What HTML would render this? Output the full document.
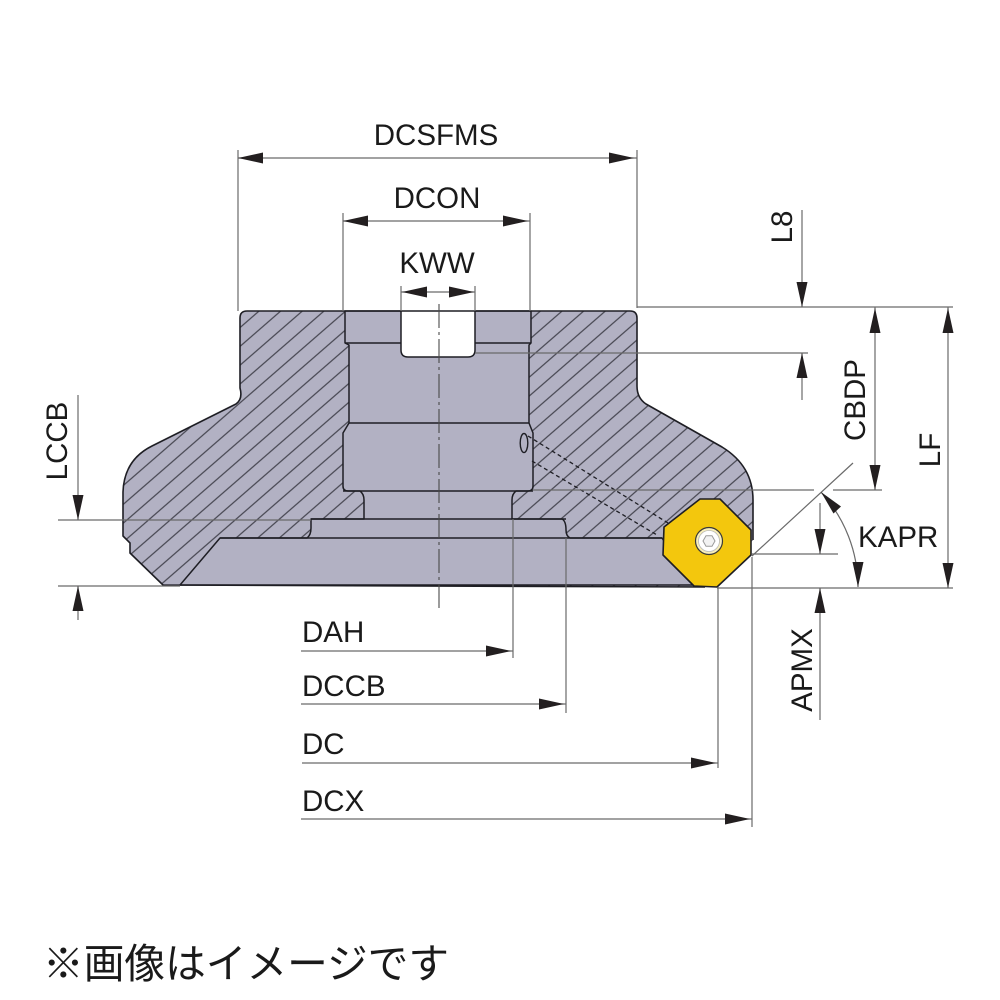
<!DOCTYPE html>
<html>
<head>
<meta charset="utf-8">
<style>
html,body{margin:0;padding:0;background:#fff;}
svg{display:block;}
text{font-family:"Liberation Sans","Noto Sans CJK JP",sans-serif;fill:#1a1a1a;}
</style>
</head>
<body>
<svg width="1000" height="1000" viewBox="0 0 1000 1000" xmlns="http://www.w3.org/2000/svg">
<defs>
  <pattern id="hatch" patternUnits="userSpaceOnUse" width="14.2" height="20" patternTransform="rotate(49)">
    <line x1="7.1" y1="-2" x2="7.1" y2="22" stroke="#3a3a44" stroke-width="1.1"/>
  </pattern>
  <clipPath id="bodyclip">
    <path d="M 247,311 L 630,311 Q 637,311 637,318 L 637,386 Q 637,398 646,404 L 722,447 Q 753,466 753,500 L 753,540 L 705,587 L 163,585 L 130,553 L 130,543 L 123,536 L 123,492 Q 124,460 152,446 L 236,404 Q 243,399 240,388 L 240,318 Q 240,311 247,311 Z"/>
  </clipPath>
</defs>

<path d="M 247,311 L 630,311 Q 637,311 637,318 L 637,386 Q 637,398 646,404 L 722,447 Q 753,466 753,500 L 753,540 L 705,587 L 163,585 L 130,553 L 130,543 L 123,536 L 123,492 Q 124,460 152,446 L 236,404 Q 243,399 240,388 L 240,318 Q 240,311 247,311 Z" fill="#b2b1c3"/>
<rect x="100" y="300" width="680" height="300" fill="url(#hatch)" clip-path="url(#bodyclip)"/>

<path d="M 345,311 L 531,311 L 531,343 L 529,345 L 529,423 L 533,433 L 533,486 Q 533,491 528,491 L 516,491 Q 512,494 512,500 L 512,519 L 562,519 Q 566,521 566,530 Q 566,536 570,538 L 662,538 L 693,585 L 180,585 L 220,538 L 307,538 Q 311,535 311,528 L 311,519 L 364,519 L 364,500 Q 364,494 360,491 L 348,491 Q 343,491 343,486 L 343,433 L 349,423 L 349,345 L 345,343 Z" fill="#b2b1c3" stroke="#1e1e24" stroke-width="1.5" stroke-linejoin="round"/>
<g stroke="#1e1e24" stroke-width="1.5" fill="none">
  <line x1="345" y1="343" x2="531" y2="343"/>
  <line x1="349" y1="423" x2="529" y2="423"/>
  <line x1="343" y1="491" x2="533" y2="491"/>
  <line x1="311" y1="519" x2="566" y2="519"/>
  <line x1="220" y1="538" x2="662" y2="538"/>
</g>

<path d="M 401,308 L 401,350 Q 401,357 408,357 L 468,357 Q 475,357 475,350 L 475,308 Z" fill="#fff"/>
<path d="M 401,311 L 401,350 Q 401,357 408,357 L 468,357 Q 475,357 475,350 L 475,311" fill="none" stroke="#1e1e24" stroke-width="1.5"/>

<ellipse cx="524" cy="443" rx="3.8" ry="9.5" fill="none" stroke="#1e1e24" stroke-width="1.4"/>
<g stroke="#1e1e24" stroke-width="1.3" stroke-dasharray="4 3" fill="none">
  <line x1="528" y1="436" x2="668" y2="523"/>
  <line x1="532" y1="461" x2="657" y2="535"/>
</g>

<path d="M 247,311 L 630,311 Q 637,311 637,318 L 637,386 Q 637,398 646,404 L 722,447 Q 753,466 753,500 L 753,540 M 705,587 L 163,585 L 130,553 L 130,543 L 123,536 L 123,492 Q 124,460 152,446 L 236,404 Q 243,399 240,388 L 240,318 Q 240,311 247,311" fill="none" stroke="#1e1e24" stroke-width="1.6" stroke-linejoin="round"/>

<polygon points="700,499 720,499 751,530 751,555 717,587 694,586 663,555 664,527" fill="#f3c70d" stroke="#1e1e24" stroke-width="1.6" stroke-linejoin="round"/>
<circle cx="709" cy="541" r="13.5" fill="#f8eeb8" stroke="#3a3a3a" stroke-width="1.2"/>
<circle cx="709" cy="541" r="10.5" fill="#ffffff" stroke="#b8b8b8" stroke-width="0.8"/>
<polygon points="715,541 712,546.2 706,546.2 703,541 706,535.8 712,535.8" fill="#f2f2f2" stroke="#9a9a9a" stroke-width="1"/>

<line x1="439" y1="304" x2="439" y2="608" stroke="#4a4a4a" stroke-width="1.1" stroke-dasharray="24 4 3 4"/>

<g stroke="#6a6a6a" stroke-width="1.2" fill="none">
  <line x1="238" y1="150" x2="238" y2="311"/>
  <line x1="637" y1="150" x2="637" y2="308"/>
  <line x1="238" y1="158" x2="637" y2="158"/>
  <line x1="343" y1="213" x2="343" y2="311"/>
  <line x1="530" y1="213" x2="530" y2="311"/>
  <line x1="343" y1="221" x2="530" y2="221"/>
  <line x1="401" y1="286" x2="401" y2="311"/>
  <line x1="475" y1="286" x2="475" y2="311"/>
  <line x1="401" y1="292" x2="475" y2="292"/>
  <line x1="637" y1="307" x2="953" y2="307"/>
  <line x1="475" y1="353" x2="808" y2="353"/>
  <line x1="533" y1="490" x2="814" y2="490"/>
  <line x1="833" y1="490" x2="882" y2="490"/>
  <line x1="752" y1="554" x2="838" y2="554"/>
  <line x1="717" y1="588" x2="953" y2="588"/>
  <line x1="802" y1="210" x2="802" y2="307"/>
  <line x1="802" y1="353" x2="802" y2="400"/>
  <line x1="875" y1="307" x2="875" y2="490"/>
  <line x1="948" y1="307" x2="948" y2="588"/>
  <line x1="820" y1="503" x2="820" y2="554"/>
  <line x1="820" y1="588" x2="820" y2="720"/>
  <line x1="752" y1="556" x2="853" y2="463"/>
  <path d="M 821.2,492.4 A 140 140 0 0 1 858,587"/>
  <line x1="58" y1="520" x2="311" y2="520"/>
  <line x1="58" y1="586" x2="180" y2="586"/>
  <line x1="78" y1="395" x2="78" y2="520"/>
  <line x1="78" y1="586" x2="78" y2="620"/>
  <line x1="513" y1="519" x2="513" y2="658"/>
  <line x1="566" y1="538" x2="566" y2="713"/>
  <line x1="718" y1="587" x2="718" y2="768"/>
  <line x1="752" y1="557" x2="752" y2="827"/>
  <line x1="301" y1="651" x2="513" y2="651"/>
  <line x1="301" y1="704" x2="566" y2="704"/>
  <line x1="302" y1="763" x2="718" y2="763"/>
  <line x1="301" y1="819" x2="752" y2="819"/>
</g>

<g fill="#231f20">
  <polygon points="238,158 263,152.5 263,163.5"/>
  <polygon points="634,158 609,152.5 609,163.5"/>
  <polygon points="343,221 368,215.5 368,226.5"/>
  <polygon points="528,221 503,215.5 503,226.5"/>
  <polygon points="402,292 427,286.5 427,297.5"/>
  <polygon points="474,292 449,286.5 449,297.5"/>
  <polygon points="802,307 796.5,282 807.5,282"/>
  <polygon points="802,353 796.5,378 807.5,378"/>
  <polygon points="875,308 869.5,333 880.5,333"/>
  <polygon points="875,490 869.5,465 880.5,465"/>
  <polygon points="948,308 942.5,333 953.5,333"/>
  <polygon points="948,588 942.5,563 953.5,563"/>
  <polygon points="820,554 814.5,529 825.5,529"/>
  <polygon points="820,588 814.5,613 825.5,613"/>
  <polygon points="821,492 841,506.5 833.5,513.5"/>
  <polygon points="858,587 852.5,562 863.5,562"/>
  <polygon points="78,520 72.5,495 83.5,495"/>
  <polygon points="78,586 72.5,611 83.5,611"/>
  <polygon points="511,651 486,645.5 486,656.5"/>
  <polygon points="564,704 539,698.5 539,709.5"/>
  <polygon points="716,763 691,757.5 691,768.5"/>
  <polygon points="750,819 725,813.5 725,824.5"/>
</g>

<g font-size="29.5">
  <text x="436" y="145" text-anchor="middle">DCSFMS</text>
  <text x="437" y="208" text-anchor="middle">DCON</text>
  <text x="437" y="273" text-anchor="middle">KWW</text>
  <text x="302" y="642">DAH</text>
  <text x="302" y="696">DCCB</text>
  <text x="302" y="754">DC</text>
  <text x="302" y="811">DCX</text>
  <text x="858" y="547">KAPR</text>
  <text transform="translate(67,441) rotate(-90)" text-anchor="middle">LCCB</text>
  <text transform="translate(792,227) rotate(-90)" text-anchor="middle">L8</text>
  <text transform="translate(865,400) rotate(-90)" text-anchor="middle">CBDP</text>
  <text transform="translate(940,450) rotate(-90)" text-anchor="middle">LF</text>
  <text transform="translate(812,670) rotate(-90)" text-anchor="middle">APMX</text>
</g>

<text x="43" y="978" font-size="40.7" style="font-family:'Liberation Sans','Noto Sans CJK JP',sans-serif;" fill="#000">※画像はイメージです</text>
</svg>
</body>
</html>
